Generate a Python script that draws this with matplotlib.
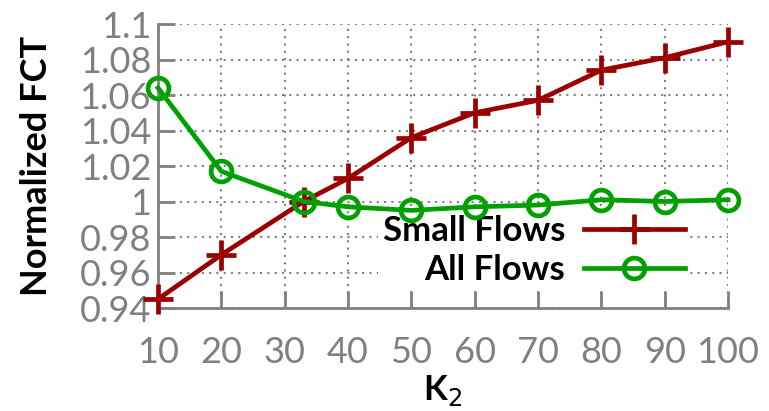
import matplotlib
matplotlib.use("Agg")
import matplotlib.pyplot as plt

plt.rcParams['font.family'] = ['Lato', 'DejaVu Sans']

k2 = [10, 20, 33, 40, 50, 60, 70, 80, 90, 100]
small_flows = [0.945, 0.970, 1.000, 1.013, 1.036, 1.050, 1.057, 1.074, 1.081, 1.090]
all_flows = [1.064, 1.017, 1.000, 0.997, 0.995, 0.997, 0.998, 1.001, 1.000, 1.001]

x_ticks = [10, 20, 30, 40, 50, 60, 70, 80, 90, 100]
y_ticks = [0.94, 0.96, 0.98, 1.0, 1.02, 1.04, 1.06, 1.08, 1.1]
y_labels = ['0.94', '0.96', '0.98', '1', '1.02', '1.04', '1.06', '1.08', '1.1']

gray = '#808080'

fig = plt.figure(figsize=(7.69, 4.11), dpi=100)
ax = fig.add_axes([0.2055, 0.2506, 0.7412, 0.691])

ax.plot(k2, small_flows, color='#9b0000', lw=3.4, marker='+', ms=22, mew=3.4,
        label='Small Flows', clip_on=False, zorder=4)
ax.plot(k2, all_flows, color='#00a000', lw=3.4, marker='o', ms=15, mew=3.4,
        mfc='none', label='All Flows', clip_on=False, zorder=4)

ax.set_xlim(10, 100)
ax.set_ylim(0.94, 1.1)
ax.set_xticks(x_ticks)
ax.set_yticks(y_ticks)
ax.set_yticklabels(y_labels)

ax.grid(True, color=gray, linestyle=(0, (1, 2.5)), lw=1.5)
ax.set_axisbelow(True)
for side in ['top', 'right']:
    ax.spines[side].set_visible(False)
for side in ['left', 'bottom']:
    ax.spines[side].set_color(gray)
    ax.spines[side].set_linewidth(2)

ax.tick_params(axis='both', direction='in', length=12, width=2, color=gray,
               labelcolor=gray, labelsize=26)
ax.tick_params(axis='x', pad=20)
ax.tick_params(axis='y', pad=5)

ax.set_ylabel('Normalized FCT', fontsize=26, fontweight='bold',
              color='black', labelpad=19)
ax.set_xlabel('K$_2$', fontsize=25, fontweight='bold', color='black',
              labelpad=3)

leg = ax.legend(loc='lower right', bbox_to_anchor=(0.962, 0.0), markerfirst=False,
                prop={'size': 25, 'weight': 'bold'}, frameon=True,
                facecolor='white', edgecolor='none', framealpha=1, fancybox=False,
                handlelength=2.9, handletextpad=0.55, labelspacing=0.22,
                borderpad=0.12)
leg.set_zorder(3)

fig.savefig('out.png', dpi=100)
